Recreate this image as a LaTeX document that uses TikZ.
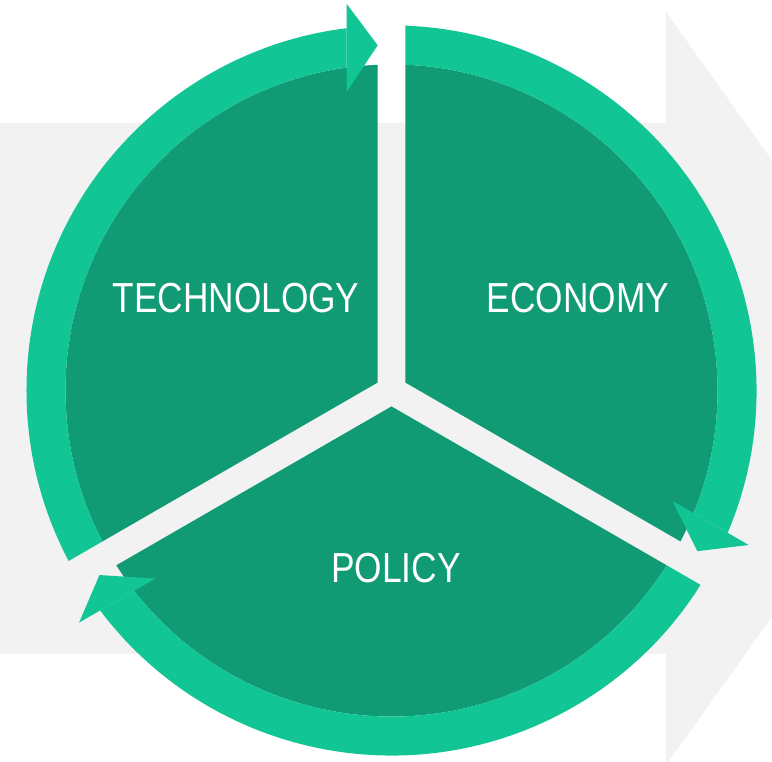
\documentclass[tikz,border=0pt]{standalone}
\usepackage{fontspec}
\setmainfont{Liberation Sans}
\usepackage{graphicx}
\definecolor{bggray}{HTML}{F2F2F2}
\definecolor{ringgreen}{HTML}{12C595}
\definecolor{darkgreen}{HTML}{109B74}
\begin{document}
\begin{tikzpicture}[x=1pt,y=1pt,
  lbl/.style={text=white, font=\fontsize{42}{50}\selectfont, inner sep=0pt},
  ringfill/.style={fill=ringgreen},
  discfill/.style={fill=darkgreen}]
\fill[white] (-391.5,-371.5) rectangle (380.5,390.5);
\useasboundingbox (-391.5,-371.5) rectangle (380.5,390.5);
\clip (-391.5,-371.5) rectangle (380.5,390.5);
% background arrow
\fill[bggray] (-391.5,-263.5) -- (274.5,-263.5) -- (274.5,-374.5) -- (543.5,2)
  -- (274.5,378.5) -- (274.5,267.5) -- (-391.5,267.5) -- cycle;
% three sectors with ring segments and arrowheads
\foreach \r in {0,-120,-240} {
  \begin{scope}[rotate=\r]
    \begin{scope}
      \clip (-13.8,7.97) -- (-13.8,607.97) -- (-533.4,307.97) -- (-533.4,-292.03) -- cycle;
      \fill[discfill] (0,0) circle (326pt);
      \clip (-600,-600) rectangle (-44.8,600);
      \fill[ringfill, even odd rule] (0,0) circle (365pt) (0,0) circle (326pt);
    \end{scope}
    \fill[ringfill] (-44.8,386.6) -- (-13.8,345.2) -- (-44.8,298.6) -- cycle;
  \end{scope}
}
\node[lbl] (tech) at (-155.5,92.5) {\scalebox{0.84}[1]{TECHNOLOGY}};
\node[lbl] (econ) at (186.5,92.5) {\scalebox{0.84}[1]{ECONOMY}};
\node[lbl] (policy) at (4.5,-177.5) {\scalebox{0.84}[1]{POLICY}};
\end{tikzpicture}
\end{document}
